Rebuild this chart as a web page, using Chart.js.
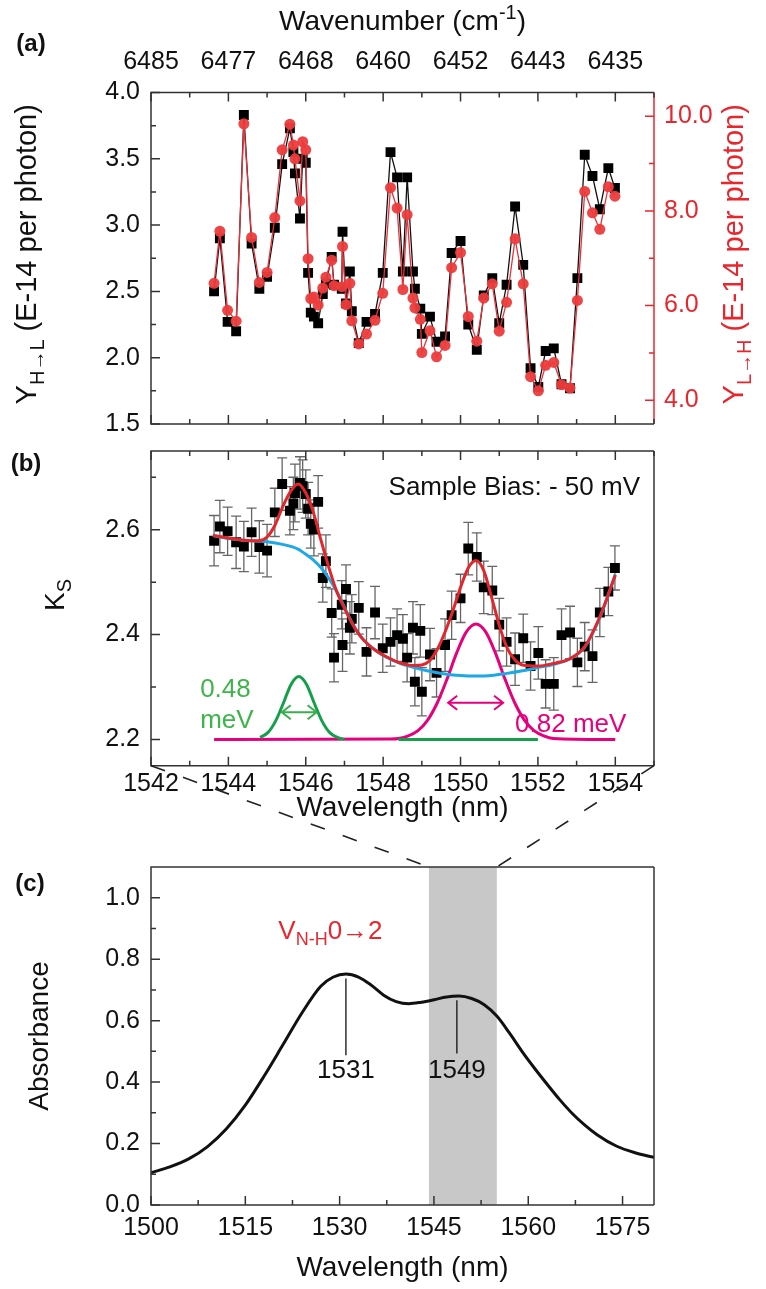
<!DOCTYPE html>
<html lang="en">
<head>
  <meta charset="UTF-8">
  <title>Wavelength scan</title>
  <script src="https://cdn.jsdelivr.net/npm/chart.js@4"></script>
  <style>
    body { margin: 0; background: #fff; width: 766px; height: 1289px; position: relative; overflow: hidden; }
    canvas { position: absolute; left: 0; }
    #chartA { top: 0; }
    #chartB { top: 425px; }
    #chartC { top: 760px; }
  </style>
</head>
<body>
  <canvas id="chartA" width="766" height="450"></canvas>
  <canvas id="chartB" width="766" height="415"></canvas>
  <canvas id="chartC" width="766" height="529"></canvas>

  <script>
    // ---- panel (a) and (b): measured points, wavelength in nm ----
    const wavelengths = [1543.63, 1543.78, 1543.98, 1544.20, 1544.40, 1544.60, 1544.80, 1545.00, 1545.20, 1545.39,
      1545.59, 1545.68, 1545.72, 1545.85, 1545.92, 1546.00, 1546.06, 1546.13, 1546.21, 1546.32,
      1546.44, 1546.52, 1546.67, 1546.73, 1546.93, 1546.95, 1547.04, 1547.14, 1547.19, 1547.37,
      1547.57, 1547.79, 1547.99, 1548.19, 1548.36, 1548.51, 1548.62, 1548.77, 1548.82, 1548.96,
      1549.00, 1549.21, 1549.38, 1549.60, 1549.77, 1550.00, 1550.20, 1550.42, 1550.60, 1550.82,
      1551.00, 1551.19, 1551.41, 1551.62, 1551.81, 1552.01, 1552.20, 1552.41, 1552.61, 1552.83,
      1553.02, 1553.21, 1553.41, 1553.60, 1553.82, 1553.99];
    const yHL = [2.50, 2.90, 2.27, 2.20, 3.83, 2.86, 2.52, 2.61, 2.98, 3.46,
      3.73, 3.55, 3.39, 3.05, 3.50, 3.47, 2.64, 2.34, 2.31, 2.26,
      2.48, 2.56, 2.76, 2.55, 2.52, 2.95, 2.41, 2.65, 2.35, 2.11,
      2.27, 2.33, 2.64, 3.55, 3.36, 2.65, 3.36, 2.65, 2.52, 2.37,
      2.18, 2.31, 2.12, 2.16, 2.79, 2.88, 2.25, 2.06, 2.47, 2.60,
      2.26, 2.55, 3.14, 2.70, 1.92, 1.78, 2.05, 2.07, 1.80, 1.77,
      2.60, 3.53, 3.37, 3.12, 3.43, 3.28];
    const yLH = [6.47, 7.57, 5.90, 5.67, 9.84, 7.44, 6.49, 6.70, 7.86, 9.29,
      9.83, 9.39, 9.10, 8.21, 9.46, 9.29, 6.99, 6.15, 6.18, 6.01,
      6.37, 6.60, 6.96, 6.42, 6.40, 7.25, 6.02, 6.47, 5.68, 5.19,
      5.40, 5.69, 6.26, 8.49, 8.06, 6.34, 7.92, 6.16, 5.95, 5.71,
      5.01, 5.47, 4.92, 5.16, 6.80, 7.12, 5.77, 5.25, 6.16, 6.46,
      5.46, 6.07, 7.41, 6.46, 4.50, 4.20, 4.74, 4.80, 4.33, 4.26,
      6.11, 8.41, 7.96, 7.61, 8.51, 8.31];
    const ksValues = [2.579, 2.606, 2.597, 2.576, 2.568, 2.595, 2.567, 2.560, 2.633, 2.687,
      2.636, 2.650, 2.670, 2.689, 2.683, 2.668, 2.640, 2.611, 2.600, 2.653,
      2.508, 2.540, 2.441, 2.356, 2.457, 2.380, 2.487, 2.413, 2.430, 2.451,
      2.367, 2.442, 2.374, 2.386, 2.399, 2.392, 2.356, 2.413, 2.310, 2.407,
      2.291, 2.362, 2.327, 2.380, 2.437, 2.469, 2.564, 2.548, 2.490, 2.484,
      2.419, 2.386, 2.353, 2.393, 2.340, 2.365, 2.306, 2.306, 2.399, 2.404,
      2.347, 2.377, 2.359, 2.442, 2.482, 2.527];
    const ksErrors = [0.048, 0.050, 0.046, 0.050, 0.048, 0.046, 0.050, 0.050, 0.046, 0.050, 0.046,
      0.050, 0.055, 0.050, 0.050, 0.046, 0.050, 0.046, 0.050, 0.050, 0.046, 0.050,
      0.046, 0.046, 0.046, 0.050, 0.046, 0.050, 0.046, 0.050, 0.046, 0.050, 0.046,
      0.046, 0.050, 0.046, 0.046, 0.050, 0.046, 0.050, 0.046, 0.050, 0.046, 0.050,
      0.046, 0.046, 0.050, 0.046, 0.050, 0.046, 0.050, 0.046, 0.050, 0.046, 0.046,
      0.050, 0.046, 0.050, 0.050, 0.050, 0.046, 0.046, 0.050, 0.046, 0.046, 0.042];

    // fitted curves in panel (b)
    const fitX = [1543.6, 1544.0, 1544.4, 1544.8, 1545.0, 1545.2, 1545.4, 1545.6, 1545.8, 1546.0,
      1546.2, 1546.4, 1546.6, 1546.8, 1547.0, 1547.2, 1547.4, 1547.6, 1547.8, 1548.0,
      1548.4, 1548.8, 1549.0, 1549.2, 1549.4, 1549.6, 1549.8, 1550.0, 1550.2, 1550.4,
      1550.6, 1550.8, 1551.0, 1551.2, 1551.4, 1551.6, 1552.0, 1552.4, 1552.8, 1553.2,
      1553.6, 1554.0];
    const fitY = [2.589, 2.584, 2.580, 2.579, 2.586, 2.608, 2.643, 2.672, 2.687, 2.670,
      2.632, 2.578, 2.527, 2.482, 2.450, 2.421, 2.398, 2.382, 2.370, 2.361,
      2.347, 2.341, 2.342, 2.350, 2.372, 2.405, 2.445, 2.490, 2.527, 2.541,
      2.522, 2.472, 2.418, 2.375, 2.352, 2.342, 2.340, 2.345, 2.353, 2.376,
      2.434, 2.513];
    const baseX = [1543.6, 1544.0, 1544.4, 1544.8, 1545.0, 1545.4, 1545.8, 1546.0, 1546.2, 1546.4,
      1546.6, 1546.8, 1547.0, 1547.2, 1547.4, 1547.6, 1547.8, 1548.0, 1548.4, 1548.8,
      1549.2, 1549.6, 1550.0, 1550.4, 1550.8, 1551.2, 1551.6, 1552.0, 1552.4, 1552.8,
      1553.2, 1553.6, 1554.0];
    const baseY = [2.589, 2.583, 2.580, 2.578, 2.577, 2.572, 2.563, 2.553, 2.542, 2.527,
      2.507, 2.482, 2.452, 2.422, 2.398, 2.382, 2.370, 2.360, 2.346, 2.337,
      2.330, 2.325, 2.322, 2.321, 2.322, 2.326, 2.331, 2.337, 2.343, 2.353,
      2.375, 2.432, 2.515];
    const peak1X = [1544.82, 1545.02, 1545.22, 1545.42, 1545.62, 1545.82, 1546.02, 1546.22, 1546.42, 1546.62,
      1546.82, 1547.0, 1547.6, 1548.4, 1552.0];
    const peak1Y = [2.204, 2.213, 2.235, 2.269, 2.305, 2.320, 2.305, 2.269, 2.235, 2.213,
      2.204, 2.200, null, 2.200, 2.200];
    const peak2X = [1543.63, 1548.2, 1548.4, 1548.65, 1548.9, 1549.15, 1549.4, 1549.65, 1549.9, 1550.15,
      1550.4, 1550.65, 1550.9, 1551.15, 1551.4, 1551.65, 1551.9, 1552.15, 1552.4, 1554.0];
    const peak2Y = [2.200, 2.201, 2.202, 2.207, 2.217, 2.237, 2.270, 2.315, 2.365, 2.405,
      2.420, 2.405, 2.365, 2.315, 2.270, 2.237, 2.217, 2.207, 2.202, 2.200];

    // ---- panel (c): absorbance spectrum ----
    const absX = [1500, 1503, 1506, 1509, 1512, 1515, 1518, 1521, 1524, 1527,
      1529, 1531, 1533, 1535, 1537, 1539, 1541, 1543, 1545, 1547,
      1549, 1551, 1553, 1555, 1557, 1559, 1561, 1563, 1565, 1567,
      1569, 1571, 1574, 1577, 1580];
    const absY = [0.105, 0.124, 0.150, 0.190, 0.248, 0.325, 0.420, 0.522, 0.625, 0.712,
      0.742, 0.752, 0.742, 0.716, 0.683, 0.662, 0.655, 0.660, 0.668, 0.677,
      0.680, 0.672, 0.652, 0.615, 0.560, 0.500, 0.445, 0.393, 0.343, 0.298,
      0.260, 0.228, 0.192, 0.170, 0.155];
    const bandRange = [1544.2, 1555.0];
    const peakMarkX = [1531, 1548.65];
    const peakMarkLabels = ['1531', '1549'];

    // ---- ticks ----
    const wlTicks = [1542, 1543, 1544, 1545, 1546, 1547, 1548, 1549, 1550, 1551, 1552, 1553, 1554, 1555];
    const wnTickPos = [1542, 1544, 1546, 1548, 1550, 1552, 1554];
    const wnTickLabels = ['6485', '6477', '6468', '6460', '6452', '6443', '6435'];
    const yHLTicks = [1.5, 1.75, 2.0, 2.25, 2.5, 2.75, 3.0, 3.25, 3.5, 3.75, 4.0];
    const yLHTicks = [4, 5, 6, 7, 8, 9, 10];
    const ksTicks = [2.2, 2.3, 2.4, 2.5, 2.6, 2.7];
    const absXTicks = [1500, 1507.5, 1515, 1522.5, 1530, 1537.5, 1545, 1552.5, 1560, 1567.5, 1575];
    const absYTicks = [0, 0.1, 0.2, 0.3, 0.4, 0.5, 0.6, 0.7, 0.8, 0.9, 1.0];

    const FONT = '"Liberation Sans", Arial, Helvetica, sans-serif';
    const RED = '#e8262d';
    const TICK_FONT = { family: FONT, size: 25 };
    Chart.defaults.font.family = FONT;

    const xy = (xs, ys) => xs.map((x, i) => ({ x: x, y: ys[i] }));
    const every = step => v => Math.abs(v / step - Math.round(v / step)) < 1e-6;
    const setTicks = list => s => { s.ticks = list.map(v => ({ value: v })); };

    function frame(chart, rightColor) {
      const ctx = chart.ctx, a = chart.chartArea;
      ctx.save();
      ctx.lineWidth = 1.5;
      ctx.strokeStyle = '#333';
      ctx.beginPath();
      ctx.moveTo(a.right, a.top); ctx.lineTo(a.left, a.top);
      ctx.lineTo(a.left, a.bottom); ctx.lineTo(a.right, a.bottom);
      ctx.stroke();
      ctx.strokeStyle = rightColor || '#333';
      ctx.beginPath(); ctx.moveTo(a.right, a.top); ctx.lineTo(a.right, a.bottom); ctx.stroke();
      ctx.restore();
    }

    // ticks pointing into the plot
    function inTicks(chart, scaleId, side, values, isMajor, color) {
      const ctx = chart.ctx, a = chart.chartArea, s = chart.scales[scaleId];
      ctx.save();
      ctx.strokeStyle = color || '#333';
      ctx.lineWidth = 1.5;
      ctx.beginPath();
      values.forEach(v => {
        const len = isMajor(v) ? 9 : 5;
        const p = s.getPixelForValue(v);
        if (side === 'top') { ctx.moveTo(p, a.top); ctx.lineTo(p, a.top + len); }
        if (side === 'bottom') { ctx.moveTo(p, a.bottom); ctx.lineTo(p, a.bottom - len); }
        if (side === 'left') { ctx.moveTo(a.left, p); ctx.lineTo(a.left + len, p); }
        if (side === 'right') { ctx.moveTo(a.right, p); ctx.lineTo(a.right - len, p); }
      });
      ctx.stroke();
      ctx.restore();
    }

    // text with sub (1) / superscript (2) parts
    function richText(ctx, parts, x, y, o) {
      const size = o.size;
      ctx.save();
      ctx.translate(x, y);
      if (o.rot) ctx.rotate(o.rot);
      ctx.fillStyle = o.color || '#111';
      ctx.textAlign = 'left';
      ctx.textBaseline = 'alphabetic';
      const segs = parts.map(p => {
        const m = p[1] || 0;
        const fs = m ? Math.round(size * 0.7) : size;
        ctx.font = (o.bold ? 'bold ' : '') + fs + 'px ' + FONT;
        return { t: p[0], m: m, fs: fs, w: ctx.measureText(p[0]).width };
      });
      const total = segs.reduce((s, g) => s + g.w, 0);
      let cx = o.align === 'left' ? 0 : (o.align === 'right' ? -total : -total / 2);
      const base = size * 0.36;
      segs.forEach(g => {
        ctx.font = (o.bold ? 'bold ' : '') + g.fs + 'px ' + FONT;
        const dy = g.m === 1 ? size * 0.25 : (g.m === 2 ? -size * 0.4 : 0);
        ctx.fillText(g.t, cx, base + dy);
        cx += g.w;
      });
      ctx.restore();
    }

    function dblArrow(ctx, x1, x2, y, color) {
      ctx.save();
      ctx.strokeStyle = color;
      ctx.lineWidth = 2;
      ctx.beginPath();
      ctx.moveTo(x1, y); ctx.lineTo(x2, y);
      ctx.moveTo(x1 + 9, y - 7); ctx.lineTo(x1, y); ctx.lineTo(x1 + 9, y + 7);
      ctx.moveTo(x2 - 9, y - 7); ctx.lineTo(x2, y); ctx.lineTo(x2 - 9, y + 7);
      ctx.stroke();
      ctx.restore();
    }

    const baseOptions = {
      responsive: false,
      animation: false,
      events: [],
      plugins: { legend: { display: false }, tooltip: { enabled: false } }
    };
    const noGrid = { display: false, drawTicks: false };

    // ---------- panel (a) ----------
    const decorA = {
      id: 'decorA',
      afterDraw(chart) {
        const ctx = chart.ctx, a = chart.chartArea;
        frame(chart, RED);
        inTicks(chart, 'x', 'top', wlTicks, every(2));
        inTicks(chart, 'x', 'bottom', wlTicks, every(2));
        inTicks(chart, 'y', 'left', yHLTicks, every(0.5));
        inTicks(chart, 'yR', 'right', yLHTicks, every(2), RED);
        const midY = (a.top + a.bottom) / 2;
        richText(ctx, [['Wavenumber (cm'], ['-1', 2], [')']], (a.left + a.right) / 2, 20, { size: 28 });
        richText(ctx, [['Y'], ['H\u2192L', 1], [' (E-14 per photon)']], 26, midY - 4, { size: 29, rot: -Math.PI / 2 });
        richText(ctx, [['Y'], ['L\u2192H', 1], [' (E-14 per photon)']], 733, midY - 4, { size: 29, rot: -Math.PI / 2, color: RED });
        richText(ctx, [['(a)']], 31, 42, { size: 24, bold: true });
      }
    };

    const chartA = new Chart(document.getElementById('chartA'), {
      type: 'line',
      data: {
        datasets: [
          {
            data: xy(wavelengths, yLH), yAxisID: 'yR', xAxisID: 'x',
            borderColor: '#e8323a', borderWidth: 1.3,
            pointStyle: 'circle', pointRadius: 5.5, pointBackgroundColor: 'rgba(236,60,60,0.95)',
            pointBorderWidth: 0, tension: 0, order: 0
          },
          {
            data: xy(wavelengths, yHL), yAxisID: 'y', xAxisID: 'x',
            borderColor: '#111', borderWidth: 1.3,
            pointStyle: 'rect', pointRadius: 7, pointBackgroundColor: '#000',
            pointBorderWidth: 0, tension: 0, order: 1
          }
        ]
      },
      options: Object.assign({}, baseOptions, {
        layout: { padding: { top: 0, right: 0, bottom: 20, left: 0 }, autoPadding: false },
        scales: {
          x: { type: 'linear', min: 1542, max: 1555, bounds: 'data', display: false },
          xTop: {
            type: 'linear', axis: 'x', position: 'top', min: 1542, max: 1555, bounds: 'data',
            grid: noGrid, border: { display: false },
            afterBuildTicks: setTicks(wlTicks),
            afterFit: s => { s.height = 92.5; },
            ticks: {
              autoSkip: false, maxRotation: 0, padding: 15, font: TICK_FONT, color: '#111',
              callback: v => { const i = wnTickPos.indexOf(v); return i < 0 ? '' : wnTickLabels[i]; }
            }
          },
          y: {
            type: 'linear', position: 'left', min: 1.5, max: 4.0, bounds: 'data',
            grid: noGrid, border: { display: false },
            afterBuildTicks: setTicks(yHLTicks),
            afterFit: s => { s.width = 151; },
            ticks: { autoSkip: false, padding: 11, font: TICK_FONT, color: '#111',
              callback: v => every(0.5)(v) ? v.toFixed(1) : '' }
          },
          yR: {
            type: 'linear', position: 'right', min: 3.5, max: 10.5, bounds: 'data',
            grid: noGrid, border: { display: false },
            afterBuildTicks: setTicks(yLHTicks),
            afterFit: s => { s.width = 112; },
            ticks: { autoSkip: false, padding: 10, font: TICK_FONT, color: RED,
              callback: v => every(2)(v) ? v.toFixed(1) : '' }
          }
        }
      }),
      plugins: [decorA]
    });

    // ---------- panel (b) ----------
    const GREEN = '#14a04a';
    const MAGENTA = '#e5007d';

    const decorB = {
      id: 'decorB',
      beforeDatasetsDraw(chart) {
        const ctx = chart.ctx, sx = chart.scales.x, sy = chart.scales.y;
        ctx.save();
        ctx.strokeStyle = '#666';
        ctx.lineWidth = 1.3;
        ctx.beginPath();
        wavelengths.forEach((w, i) => {
          const px = sx.getPixelForValue(w);
          const top = sy.getPixelForValue(ksValues[i] + ksErrors[i]);
          const bot = sy.getPixelForValue(ksValues[i] - ksErrors[i]);
          ctx.moveTo(px, top); ctx.lineTo(px, bot);
          ctx.moveTo(px - 5, top); ctx.lineTo(px + 5, top);
          ctx.moveTo(px - 5, bot); ctx.lineTo(px + 5, bot);
        });
        ctx.stroke();
        ctx.restore();
      },
      afterDraw(chart) {
        const ctx = chart.ctx, a = chart.chartArea, sx = chart.scales.x, sy = chart.scales.y;
        frame(chart);
        inTicks(chart, 'x', 'top', wlTicks, every(2));
        inTicks(chart, 'x', 'bottom', wlTicks, every(2));
        inTicks(chart, 'y', 'left', ksTicks, every(0.2));
        dblArrow(ctx, sx.getPixelForValue(1545.38), sx.getPixelForValue(1546.28), sy.getPixelForValue(2.252), '#3aae4f');
        dblArrow(ctx, sx.getPixelForValue(1549.68), sx.getPixelForValue(1551.10), sy.getPixelForValue(2.270), MAGENTA);
        richText(ctx, [['0.48']], sx.getPixelForValue(1543.27), sy.getPixelForValue(2.299), { size: 26, color: '#3db54a', align: 'left' });
        richText(ctx, [['meV']], sx.getPixelForValue(1543.27), sy.getPixelForValue(2.240), { size: 26, color: '#3db54a', align: 'left' });
        richText(ctx, [['0.82 meV']], sx.getPixelForValue(1551.41), sy.getPixelForValue(2.233), { size: 26, color: MAGENTA, align: 'left' });
        richText(ctx, [['Sample Bias: - 50 mV']], a.right - 14, a.top + 35, { size: 26, align: 'right' });
        richText(ctx, [['K'], ['S', 1]], 54, 170, { size: 28, rot: -Math.PI / 2 });
        richText(ctx, [['Wavelength (nm)']], (a.left + a.right) / 2, 381, { size: 28 });
        richText(ctx, [['(b)']], 26, 37, { size: 24, bold: true });
      }
    };

    const curve = (xs, ys, color, width, order) => ({
      data: xy(xs, ys), borderColor: color, borderWidth: width, pointRadius: 0,
      cubicInterpolationMode: 'monotone', fill: false, spanGaps: false, order: order
    });

    const chartB = new Chart(document.getElementById('chartB'), {
      type: 'line',
      data: {
        datasets: [
          curve(fitX, fitY, '#e3262b', 3, 0),
          curve(baseX, baseY, '#1ea9e6', 3, 1),
          curve(peak1X, peak1Y, GREEN, 3, 2),
          curve(peak2X, peak2Y, MAGENTA, 3, 3),
          {
            data: xy(wavelengths, ksValues), showLine: false,
            pointStyle: 'rect', pointRadius: 7, pointBackgroundColor: '#000', pointBorderWidth: 0, order: 4
          }
        ]
      },
      options: Object.assign({}, baseOptions, {
        layout: { padding: { top: 5, right: 112, bottom: 0, left: 0 }, autoPadding: false },
        scales: {
          x: {
            type: 'linear', position: 'bottom', min: 1542, max: 1555, bounds: 'data',
            grid: noGrid, border: { display: false },
            afterBuildTicks: setTicks(wlTicks),
            afterFit: s => { s.height = 74.3; },
            ticks: { autoSkip: false, maxRotation: 0, padding: 3, font: TICK_FONT, color: '#111',
              callback: v => every(2)(v) ? String(v) : '' }
          },
          y: {
            type: 'linear', position: 'left', min: 2.15, max: 2.75, bounds: 'data',
            grid: noGrid, border: { display: false },
            afterBuildTicks: setTicks(ksTicks),
            afterFit: s => { s.width = 151; },
            ticks: { autoSkip: false, padding: 11, font: TICK_FONT, color: '#111',
              callback: v => every(0.2)(v) ? v.toFixed(1) : '' }
          }
        }
      }),
      plugins: [decorB]
    });

    // ---------- panel (c) ----------
    const decorC = {
      id: 'decorC',
      beforeDatasetsDraw(chart) {
        const ctx = chart.ctx, a = chart.chartArea, sx = chart.scales.x;
        const x1 = sx.getPixelForValue(bandRange[0]), x2 = sx.getPixelForValue(bandRange[1]);
        ctx.save();
        ctx.fillStyle = '#c8c8c8';
        ctx.fillRect(x1, a.top, x2 - x1, a.bottom - a.top);
        ctx.restore();
      },
      afterDraw(chart) {
        const ctx = chart.ctx, a = chart.chartArea, sx = chart.scales.x, sy = chart.scales.y;
        frame(chart);
        inTicks(chart, 'x', 'bottom', absXTicks, every(15));
        inTicks(chart, 'y', 'left', absYTicks, every(0.2));

        // peak markers
        ctx.save();
        ctx.strokeStyle = '#111';
        ctx.lineWidth = 1.3;
        ctx.beginPath();
        ctx.moveTo(sx.getPixelForValue(peakMarkX[0]), sy.getPixelForValue(0.737));
        ctx.lineTo(sx.getPixelForValue(peakMarkX[0]), sy.getPixelForValue(0.487));
        ctx.moveTo(sx.getPixelForValue(peakMarkX[1]), sy.getPixelForValue(0.666));
        ctx.lineTo(sx.getPixelForValue(peakMarkX[1]), sy.getPixelForValue(0.493));
        ctx.stroke();
        ctx.restore();
        peakMarkX.forEach((w, i) => {
          richText(ctx, [[peakMarkLabels[i]]], sx.getPixelForValue(w), sy.getPixelForValue(0.445), { size: 26 });
        });
        richText(ctx, [['V'], ['N-H', 1], ['0\u21922']], sx.getPixelForValue(1520.25), sy.getPixelForValue(0.897),
          { size: 26, color: RED, align: 'left' });

        // dashed connectors from panel (b) to the shaded band
        const offset = chartB.canvas.offsetTop - chart.canvas.offsetTop;
        const yB = chartB.chartArea.bottom + offset;
        ctx.save();
        ctx.strokeStyle = '#222';
        ctx.lineWidth = 1.6;
        ctx.setLineDash([15, 19]);
        ctx.beginPath();
        ctx.moveTo(chartB.scales.x.getPixelForValue(1542), yB);
        ctx.lineTo(sx.getPixelForValue(bandRange[0]), a.top);
        ctx.moveTo(chartB.scales.x.getPixelForValue(1555), yB);
        ctx.lineTo(sx.getPixelForValue(bandRange[1]), a.top);
        ctx.stroke();
        ctx.restore();

        richText(ctx, [['Absorbance']], 38, (a.top + a.bottom) / 2, { size: 28, rot: -Math.PI / 2 });
        richText(ctx, [['Wavelength (nm)']], (a.left + a.right) / 2, 506, { size: 28 });
        richText(ctx, [['(c)']], 30, 122, { size: 24, bold: true });
      }
    };

    const chartC = new Chart(document.getElementById('chartC'), {
      type: 'line',
      data: {
        datasets: [curve(absX, absY, '#111', 3, 0)]
      },
      options: Object.assign({}, baseOptions, {
        layout: { padding: { top: 107, right: 112, bottom: 0, left: 0 }, autoPadding: false },
        scales: {
          x: {
            type: 'linear', position: 'bottom', min: 1500, max: 1580, bounds: 'data',
            grid: noGrid, border: { display: false },
            afterBuildTicks: setTicks(absXTicks),
            afterFit: s => { s.height = 84; },
            ticks: { autoSkip: false, maxRotation: 0, padding: 8, font: TICK_FONT, color: '#111',
              callback: v => every(15)(v) ? String(v) : '' }
          },
          y: {
            type: 'linear', position: 'left', min: 0, max: 1.1, bounds: 'data',
            grid: noGrid, border: { display: false },
            afterBuildTicks: setTicks(absYTicks),
            afterFit: s => { s.width = 151; },
            ticks: { autoSkip: false, padding: 11, font: TICK_FONT, color: '#111',
              callback: v => every(0.2)(v) ? v.toFixed(1) : '' }
          }
        }
      }),
      plugins: [decorC]
    });
  </script>
</body>
</html>
